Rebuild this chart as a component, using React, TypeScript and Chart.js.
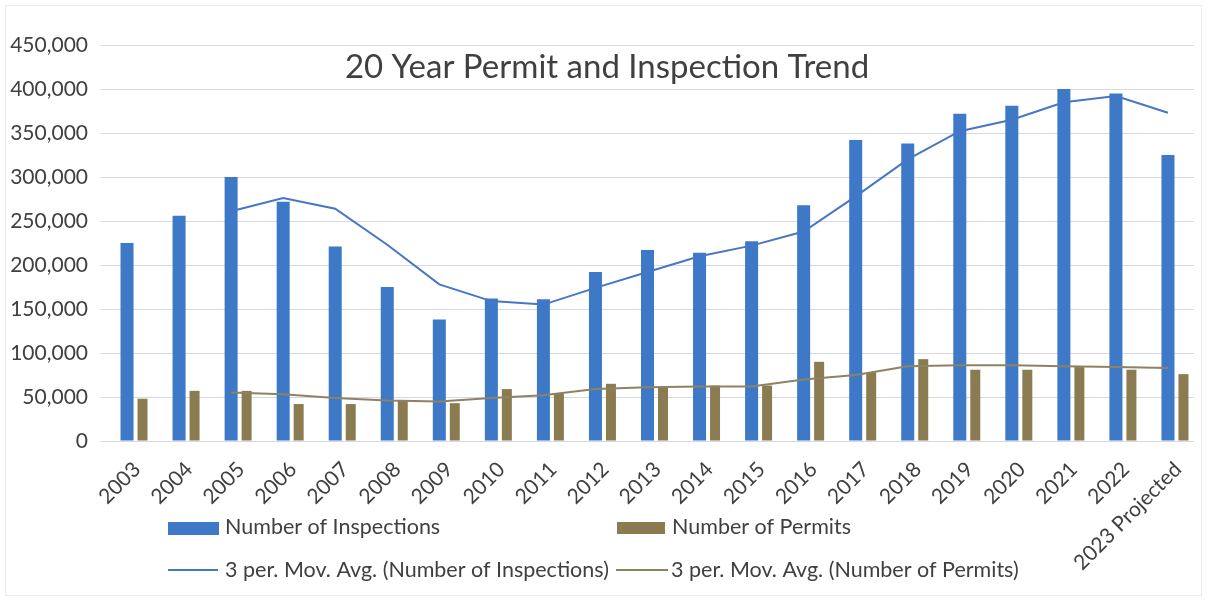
import React, { useEffect, useRef } from "react";
import { Chart, registerables } from "chart.js";

Chart.register(...registerables);

const TITLE = "20 Year Permit and Inspection Trend";

const years = [
  "2003", "2004", "2005", "2006", "2007", "2008", "2009", "2010", "2011", "2012",
  "2013", "2014", "2015", "2016", "2017", "2018", "2019", "2020", "2021", "2022",
  "2023 Projected",
];

const inspections = [
  225000, 256000, 300000, 272000, 221000, 175000, 138000, 162000, 161000, 192000,
  217000, 214000, 227000, 268000, 342000, 338000, 372000, 381000, 400000, 395000,
  325000,
];

const permits = [
  48000, 57000, 57000, 42000, 42000, 46000, 43000, 59000, 54000, 65000,
  61000, 63000, 63000, 90000, 78000, 93000, 81000, 81000, 84000, 81000,
  76000,
];

const maInspections = [
  null, null, 261000, 276000, 264000, 223000, 178000, 159000, 155000, 174000,
  192000, 210000, 222000, 238000, 278000, 320000, 352000, 365000, 385000, 392000,
  373000,
];

const maPermits = [
  null, null, 55000, 53000, 49000, 46000, 45000, 49000, 52000, 59000,
  61000, 62000, 62000, 70000, 75000, 85000, 86000, 86000, 85000, 84000,
  83000,
];

const yTicks = [0, 50000, 100000, 150000, 200000, 250000, 300000, 350000, 400000, 450000];

const seriesNames = [
  "Number of Inspections",
  "Number of Permits",
  "3 per. Mov. Avg. (Number of Inspections)",
  "3 per. Mov. Avg. (Number of Permits)",
];

const BLUE = "#3d79c7";
const BROWN = "#8b7b50";
const BLUE_LINE = "#4676c4";
const BROWN_LINE = "#8f8262";
const TEXT = "#404040";
const FONT = "Lato, 'Open Sans', sans-serif";

const overlayPlugin = {
  id: "overlay",
  afterDraw(chart: any) {
    const ctx = chart.ctx as CanvasRenderingContext2D;
    const ds = chart.data.datasets;
    ctx.save();
    // title
    ctx.fillStyle = TEXT;
    ctx.font = `33px ${FONT}`;
    ctx.textAlign = "center";
    ctx.textBaseline = "alphabetic";
    ctx.fillText(TITLE, 607, 78);

    // legend
    ctx.font = `21.5px ${FONT}`;
    ctx.textAlign = "left";
    // row 1
    ctx.fillStyle = ds[1].backgroundColor;
    ctx.fillRect(168, 522, 51, 13);
    ctx.fillStyle = TEXT;
    ctx.fillText(ds[1].label, 225, 534);
    ctx.fillStyle = ds[2].backgroundColor;
    ctx.fillRect(617, 522, 48, 12);
    ctx.fillStyle = TEXT;
    ctx.fillText(ds[2].label, 672, 534);
    // row 2
    ctx.lineWidth = 2;
    ctx.strokeStyle = ds[3].borderColor;
    ctx.beginPath();
    ctx.moveTo(168, 570);
    ctx.lineTo(218, 570);
    ctx.stroke();
    ctx.fillStyle = TEXT;
    ctx.fillText(ds[3].label, 225, 577);
    ctx.strokeStyle = ds[4].borderColor;
    ctx.beginPath();
    ctx.moveTo(616, 570);
    ctx.lineTo(668, 570);
    ctx.stroke();
    ctx.fillStyle = TEXT;
    ctx.fillText(ds[4].label, 671, 577);
    ctx.restore();
  },
};

export default function App() {
  const canvasRef = useRef<HTMLCanvasElement | null>(null);

  useEffect(() => {
    if (!canvasRef.current) return;
    const chart = new Chart(canvasRef.current, {
      type: "bar",
      data: {
        labels: years,
        datasets: [
          {
            // empty spacer so that the inspection bar sits on the category centre
            type: "bar",
            label: "",
            data: years.map(() => null) as any,
            backgroundColor: "rgba(0,0,0,0)",
            categoryPercentage: 0.893,
            barPercentage: 0.65,
            order: 2,
          },
          {
            type: "bar",
            label: seriesNames[0],
            data: inspections,
            backgroundColor: BLUE,
            categoryPercentage: 0.893,
            barPercentage: 0.84,
            order: 2,
          },
          {
            type: "bar",
            label: seriesNames[1],
            data: permits,
            backgroundColor: BROWN,
            categoryPercentage: 0.893,
            barPercentage: 0.645,
            order: 2,
          },
          {
            type: "line",
            label: seriesNames[2],
            data: maInspections as any,
            borderColor: BLUE_LINE,
            backgroundColor: BLUE_LINE,
            borderWidth: 2,
            pointRadius: 0,
            tension: 0,
            order: 0,
          },
          {
            type: "line",
            label: seriesNames[3],
            data: maPermits as any,
            borderColor: BROWN_LINE,
            backgroundColor: BROWN_LINE,
            borderWidth: 2,
            pointRadius: 0,
            tension: 0,
            order: 1,
          },
        ],
      },
      options: {
        responsive: false,
        animation: false,
        layout: { padding: { left: 10, right: 13, top: 45, bottom: 10 } },
        plugins: {
          legend: { display: false },
          title: { display: false },
          tooltip: { enabled: false },
        },
        scales: {
          x: {
            type: "category",
            offset: true,
            grid: { display: false, drawTicks: false },
            border: { display: false },
            ticks: {
              autoSkip: false,
              maxRotation: 45,
              minRotation: 45,
              padding: 16,
              labelOffset: 10,
              color: TEXT,
              font: { family: FONT, size: 21 },
            },
            afterFit: (scale: any) => {
              scale.height = 150;
            },
          },
          y: {
            min: 0,
            max: 450000,
            afterBuildTicks: (scale: any) => {
              scale.ticks = yTicks.map((v) => ({ value: v }));
            },
            grid: { color: "#d6d9e3", lineWidth: 1, drawTicks: false },
            border: { display: false },
            ticks: {
              padding: 13,
              color: TEXT,
              font: { family: FONT, size: 21 },
              callback: (v: any) => Number(v).toLocaleString("en-US"),
            },
            afterFit: (scale: any) => {
              scale.width = 91;
            },
          },
        },
      },
      plugins: [overlayPlugin],
    });
    return () => chart.destroy();
  }, []);

  return (
    <div style={{ position: "absolute", left: 0, top: 0, width: 1207, height: 601, background: "#fff" }}>
      <div
        style={{
          position: "absolute",
          left: 5,
          top: 5,
          width: 1197,
          height: 591,
          border: "1px solid #ececec",
          boxSizing: "border-box",
        }}
      />
      <canvas
        ref={canvasRef}
        width={1207}
        height={601}
        style={{ position: "absolute", left: 0, top: 0, width: 1207, height: 601 }}
      />
    </div>
  );
}
